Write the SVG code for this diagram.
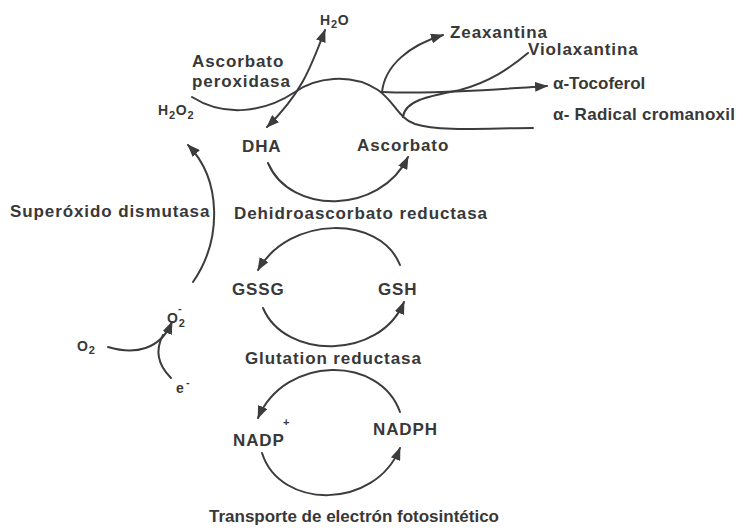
<svg xmlns="http://www.w3.org/2000/svg" width="743" height="530" viewBox="0 0 743 530">
<defs>
<style>
text{font-family:"Liberation Sans",Arial,sans-serif;font-weight:700;fill:#383838;letter-spacing:0.9px}
.t{font-size:17px}
.n{letter-spacing:0}
.s{font-size:14px;letter-spacing:0.8px}
.sub{font-size:11px}
.c{fill:none;stroke:#3c3c3c;stroke-width:2;stroke-linecap:round}
</style>
<marker id="ah" markerUnits="userSpaceOnUse" markerWidth="13" markerHeight="10" refX="12" refY="5" orient="auto-start-reverse" viewBox="0 0 13 10">
<path d="M0,0 L13,5 L0,10 z" fill="#3c3c3c"/>
</marker>
</defs>
<rect width="743" height="530" fill="#ffffff"/>
<g id="connectors">
<path class="c" d="M192,97 C225,118 265,112 295,92 C315,78 350,72 378,90 C395,102 398,118 415,124 C440,132 490,128 533,128"/>
<path class="c" d="M382,92 C385,65 410,45 443,35" marker-end="url(#ah)"/>
<path class="c" d="M382,92 C430,94 490,90 547,86" marker-end="url(#ah)"/>
<path class="c" d="M403,117 C405,100 430,96 460,90 C490,82 510,68 528,53"/>
<path class="c" d="M267,127 C300,95 310,70 325,30" marker-start="url(#ah)" marker-end="url(#ah)"/>
<path class="c" d="M268,163 C290,215 380,215 408,157" marker-end="url(#ah)"/>
<path class="c" d="M400,265 C380,215 290,215 258,270" marker-end="url(#ah)"/>
<path class="c" d="M263,308 C285,360 380,360 404,302" marker-end="url(#ah)"/>
<path class="c" d="M400,412 C380,355 285,355 258,418" marker-end="url(#ah)"/>
<path class="c" d="M262,453 C280,510 375,510 400,448" marker-end="url(#ah)"/>
<path class="c" d="M193,282 C222,240 222,180 188,145" marker-end="url(#ah)"/>
<path class="c" d="M108,347 C135,355 160,350 172,322" marker-end="url(#ah)"/>
<path class="c" d="M171,378 C158,365 155,350 163,335"/>
</g>
<g id="h2o"><text class="s" x="320" y="25">H<tspan class="sub" dy="3">2</tspan><tspan dy="-3">O</tspan></text></g>
<g id="apx"><text class="t" x="192" y="67">Ascorbato</text><text class="t" x="192" y="87">peroxidasa</text></g>
<g id="h2o2"><text class="s" x="158" y="115">H<tspan class="sub" dy="4">2</tspan><tspan dy="-4">O</tspan><tspan class="sub" dy="4">2</tspan></text></g>
<g id="dha"><text class="t" x="242" y="152">DHA</text></g>
<g id="ascorbato"><text class="t" x="357" y="151">Ascorbato</text></g>
<g id="zeaxantina"><text class="t" x="450" y="38">Zeaxantina</text></g>
<g id="violaxantina"><text class="t" x="528" y="55">Violaxantina</text></g>
<g id="tocoferol"><text class="t n" x="553" y="89">α-Tocoferol</text></g>
<g id="cromanoxil"><text class="t n" x="553" y="120" textLength="182" lengthAdjust="spacing">α- Radical cromanoxil</text></g>
<g id="sod"><text class="t" x="10" y="217">Superóxido dismutasa</text></g>
<g id="dhar"><text class="t" x="234" y="219">Dehidroascorbato reductasa</text></g>
<g id="gssg"><text class="t" x="232" y="295">GSSG</text></g>
<g id="gsh"><text class="t" x="378" y="295">GSH</text></g>
<g id="gr"><text class="t" x="245" y="364">Glutation reductasa</text></g>
<g id="nadp"><text class="t" x="233" y="446">NADP</text><text class="sub" x="283" y="426">+</text></g>
<g id="nadph"><text class="t" x="373" y="435">NADPH</text></g>
<g id="transporte"><text class="t n" x="209" y="522">Transporte de electrón fotosintético</text></g>
<g id="o2"><text class="s" x="77" y="351">O<tspan class="sub" dy="3">2</tspan></text></g>
<g id="superoxide"><text class="s" x="167" y="323">O<tspan class="sub" dy="4">2</tspan></text><text class="sub" x="178" y="312">-</text></g>
<g id="electron"><text class="s" x="176" y="393">e</text><text class="sub" x="186" y="386">-</text></g>
</svg>
